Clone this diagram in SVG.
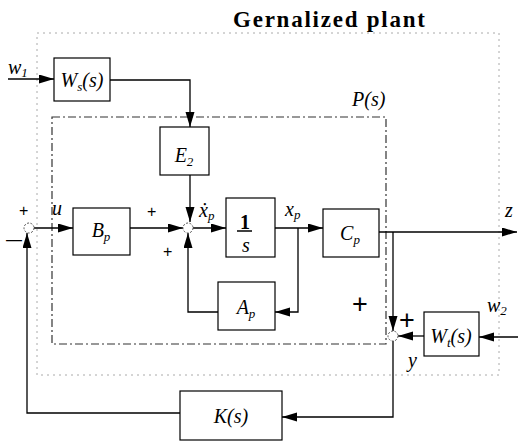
<svg xmlns="http://www.w3.org/2000/svg" width="518" height="442" viewBox="0 0 518 442">
<defs>
<marker id="arr" markerWidth="17" markerHeight="10" refX="15" refY="4.5" orient="auto" markerUnits="userSpaceOnUse">
<path d="M0,0 L15,4.5 L0,9 z" fill="#000"/>
</marker>
<style>
.blk{fill:#fff;stroke:#000;stroke-width:1.2}
.ln{fill:none;stroke:#000;stroke-width:1.3}
.sum{fill:#fff;stroke:#555;stroke-width:1;stroke-dasharray:2 1.5}
.t{font-family:"Liberation Serif","Times New Roman",serif;font-style:italic;font-size:20px;fill:#000}
.u{font-family:"Liberation Serif","Times New Roman",serif;font-size:20px;fill:#000}
.sub{font-size:13px}
.pl{font-family:"Liberation Sans",Arial,sans-serif;font-size:16px;fill:#000}
.big{font-size:27px}
</style>
</defs>
<rect width="518" height="442" fill="#fff"/>
<text x="233" y="27" font-family="Liberation Serif,serif" font-weight="bold" font-size="23" textLength="192" lengthAdjust="spacing">Gernalized plant</text>
<rect id="gplant" x="37" y="33" width="462" height="342" fill="none" stroke="#aaa" stroke-width="1" stroke-dasharray="2 4"/>
<g id="Pbox">
<rect x="52" y="117" width="334" height="227" fill="none" stroke="#333" stroke-width="1.2" stroke-dasharray="8 3 2 3"/>
<text class="t" x="352" y="106">P(s)</text>
</g>
<g id="connectors">
<path class="ln" d="M8,79 H54" marker-end="url(#arr)"/>
<path class="ln" d="M110,80 H190 V127" marker-end="url(#arr)"/>
<path class="ln" d="M190,175 V222" marker-end="url(#arr)"/>
<path class="ln" d="M34,228 H73" marker-end="url(#arr)"/>
<path class="ln" d="M130,228 H183" marker-end="url(#arr)"/>
<path class="ln" d="M193,228 H226" marker-end="url(#arr)"/>
<path class="ln" d="M275,228 H323" marker-end="url(#arr)"/>
<path class="ln" d="M298,228 V312 H275" marker-end="url(#arr)"/>
<path class="ln" d="M218,312 H188 V233" marker-end="url(#arr)"/>
<path class="ln" d="M379,232 H517" marker-end="url(#arr)"/>
<path class="ln" d="M393,232 V331" marker-end="url(#arr)"/>
<path class="ln" d="M424,336 H398" marker-end="url(#arr)"/>
<path class="ln" d="M518,337 H479" marker-end="url(#arr)"/>
<path class="ln" d="M393,341 V417 H282" marker-end="url(#arr)"/>
<path class="ln" d="M180,413 H27 V233" marker-end="url(#arr)"/>
</g>
<g id="sum1"><circle class="sum" cx="29" cy="228" r="5"/><text class="pl" x="19" y="216">+</text><text class="pl" x="6" y="245">—</text></g>
<g id="sum2"><circle class="sum" cx="188" cy="228" r="5"/><text class="pl" x="147" y="217">+</text><text class="pl" x="163" y="257">+</text></g>
<g id="sum3"><circle class="sum" cx="393" cy="336" r="5"/><text class="pl big" x="399" y="329">+</text><text class="pl big" x="352" y="313">+</text></g>
<g id="Ws"><rect class="blk" x="54" y="58" width="56" height="43"/><text class="t" x="82" y="87" text-anchor="middle">W<tspan class="sub" dy="4">s</tspan><tspan dy="-4">(s)</tspan></text></g>
<g id="E2"><rect class="blk" x="160" y="127" width="49" height="48"/><text class="t" x="184" y="162" text-anchor="middle">E<tspan class="u sub" dy="4">2</tspan></text></g>
<g id="Bp"><rect class="blk" x="73" y="208" width="57" height="47"/><text class="t" x="101" y="237" text-anchor="middle">B<tspan class="sub" dy="4">p</tspan></text></g>
<g id="integ"><rect class="blk" x="226" y="198" width="49" height="59"/><text class="u" x="245" y="229" text-anchor="middle" font-weight="bold">1</text><line x1="237" y1="231" x2="252" y2="231" stroke="#000" stroke-width="1.5"/><text class="t" x="246" y="252" text-anchor="middle">s</text></g>
<g id="Cp"><rect class="blk" x="323" y="209" width="56" height="48"/><text class="t" x="350" y="240" text-anchor="middle">C<tspan class="sub" dy="4">p</tspan></text></g>
<g id="Ap"><rect class="blk" x="218" y="282" width="57" height="48"/><text class="t" x="246" y="314" text-anchor="middle">A<tspan class="sub" dy="4">p</tspan></text></g>
<g id="Wt"><rect class="blk" x="424" y="312" width="55" height="44"/><text class="t" x="451" y="343" text-anchor="middle">W<tspan class="sub" dy="4">t</tspan><tspan dy="-4">(s)</tspan></text></g>
<g id="K"><rect class="blk" x="180" y="391" width="102" height="49"/><text class="t" x="231" y="423" text-anchor="middle">K(s)</text></g>
<g id="labels">
<text class="t" x="8" y="74">w<tspan class="u sub" dy="3">1</tspan></text>
<text class="t" x="52" y="215">u</text>
<text class="t" x="199" y="217">ẋ<tspan class="sub" dy="3">p</tspan></text>
<text class="t" x="285" y="216">x<tspan class="sub" dy="3">p</tspan></text>
<text class="t" x="505" y="217">z</text>
<text class="t" x="487" y="312">w<tspan class="u sub" dy="3">2</tspan></text>
<text class="t" x="408" y="367">y</text>
</g>
</svg>
